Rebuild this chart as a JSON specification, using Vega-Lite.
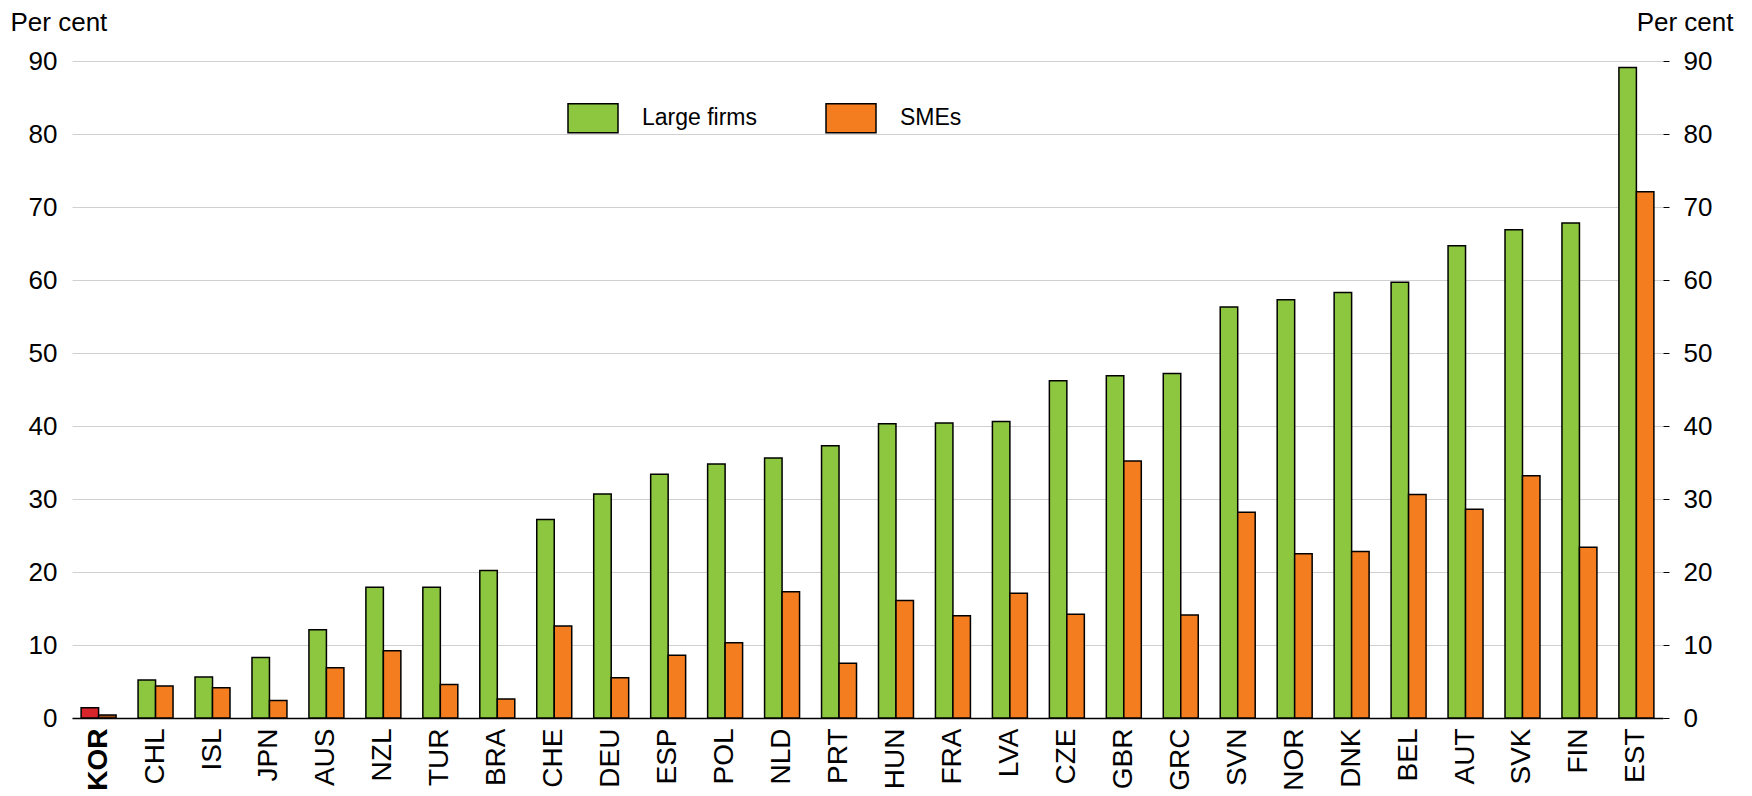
{
  "$schema": "https://vega.github.io/schema/vega-lite/v6.json",
  "width": 1591,
  "height": 657,
  "autosize": {"type": "none"},
  "padding": {"left": 72, "top": 61, "right": 89, "bottom": 78},
  "background": "white",
  "config": {
    "view": {"stroke": null},
    "font": "Liberation Sans",
    "axis": {"labelColor": "black", "titleColor": "black", "labelFont": "Liberation Sans", "titleFont": "Liberation Sans"}
  },
  "data": {
    "values": [
      {"country": "KOR", "series": "Large firms", "value": 1.4},
      {"country": "KOR", "series": "SMEs", "value": 0.4},
      {"country": "CHL", "series": "Large firms", "value": 5.2},
      {"country": "CHL", "series": "SMEs", "value": 4.4},
      {"country": "ISL", "series": "Large firms", "value": 5.6},
      {"country": "ISL", "series": "SMEs", "value": 4.15},
      {"country": "JPN", "series": "Large firms", "value": 8.3},
      {"country": "JPN", "series": "SMEs", "value": 2.4},
      {"country": "AUS", "series": "Large firms", "value": 12.1},
      {"country": "AUS", "series": "SMEs", "value": 6.9},
      {"country": "NZL", "series": "Large firms", "value": 17.9},
      {"country": "NZL", "series": "SMEs", "value": 9.2},
      {"country": "TUR", "series": "Large firms", "value": 17.9},
      {"country": "TUR", "series": "SMEs", "value": 4.6},
      {"country": "BRA", "series": "Large firms", "value": 20.2},
      {"country": "BRA", "series": "SMEs", "value": 2.6},
      {"country": "CHE", "series": "Large firms", "value": 27.2},
      {"country": "CHE", "series": "SMEs", "value": 12.6},
      {"country": "DEU", "series": "Large firms", "value": 30.7},
      {"country": "DEU", "series": "SMEs", "value": 5.5},
      {"country": "ESP", "series": "Large firms", "value": 33.4},
      {"country": "ESP", "series": "SMEs", "value": 8.6},
      {"country": "POL", "series": "Large firms", "value": 34.8},
      {"country": "POL", "series": "SMEs", "value": 10.3},
      {"country": "NLD", "series": "Large firms", "value": 35.6},
      {"country": "NLD", "series": "SMEs", "value": 17.3},
      {"country": "PRT", "series": "Large firms", "value": 37.3},
      {"country": "PRT", "series": "SMEs", "value": 7.5},
      {"country": "HUN", "series": "Large firms", "value": 40.3},
      {"country": "HUN", "series": "SMEs", "value": 16.1},
      {"country": "FRA", "series": "Large firms", "value": 40.4},
      {"country": "FRA", "series": "SMEs", "value": 14.0},
      {"country": "LVA", "series": "Large firms", "value": 40.6},
      {"country": "LVA", "series": "SMEs", "value": 17.1},
      {"country": "CZE", "series": "Large firms", "value": 46.2},
      {"country": "CZE", "series": "SMEs", "value": 14.2},
      {"country": "GBR", "series": "Large firms", "value": 46.9},
      {"country": "GBR", "series": "SMEs", "value": 35.2},
      {"country": "GRC", "series": "Large firms", "value": 47.2},
      {"country": "GRC", "series": "SMEs", "value": 14.1},
      {"country": "SVN", "series": "Large firms", "value": 56.3},
      {"country": "SVN", "series": "SMEs", "value": 28.2},
      {"country": "NOR", "series": "Large firms", "value": 57.3},
      {"country": "NOR", "series": "SMEs", "value": 22.5},
      {"country": "DNK", "series": "Large firms", "value": 58.3},
      {"country": "DNK", "series": "SMEs", "value": 22.8},
      {"country": "BEL", "series": "Large firms", "value": 59.7},
      {"country": "BEL", "series": "SMEs", "value": 30.6},
      {"country": "AUT", "series": "Large firms", "value": 64.7},
      {"country": "AUT", "series": "SMEs", "value": 28.6},
      {"country": "SVK", "series": "Large firms", "value": 66.9},
      {"country": "SVK", "series": "SMEs", "value": 33.2},
      {"country": "FIN", "series": "Large firms", "value": 67.8},
      {"country": "FIN", "series": "SMEs", "value": 23.4},
      {"country": "EST", "series": "Large firms", "value": 89.1},
      {"country": "EST", "series": "SMEs", "value": 72.1}
    ]
  },
  "layer": [
    {
      "mark": {"type": "rule", "color": "black", "strokeWidth": 1.5},
      "encoding": {}
    },
    {
      "mark": {"type": "bar", "stroke": "black", "strokeWidth": 1.5},
      "encoding": {
        "x": {
          "field": "country",
          "type": "nominal",
          "sort": null,
          "scale": {"paddingInner": 0.386, "paddingOuter": 0.16},
          "axis": {
            "title": null,
            "orient": "bottom",
            "labelAngle": -90,
            "labelFontSize": 28,
            "labelPadding": 10,
            "labelFontWeight": {"condition": {"test": "datum.value === 'KOR'", "value": "bold"}, "value": "normal"},
            "ticks": false,
            "domainColor": "black",
            "domainWidth": 1.5,
            "grid": false
          }
        },
        "xOffset": {"field": "series", "type": "nominal", "scale": {"paddingInner": 0, "paddingOuter": 0}},
        "y": {
          "field": "value",
          "type": "quantitative",
          "scale": {"domain": [0, 90], "nice": false},
          "axis": {
            "orient": "left",
            "values": [0, 10, 20, 30, 40, 50, 60, 70, 80, 90],
            "title": "Per cent",
            "titleAngle": 0,
            "titleAlign": "left",
            "titleBaseline": "alphabetic",
            "titleX": -62,
            "titleY": -31,
            "titleFontSize": 26,
            "titleFontWeight": "normal",
            "labelFontSize": 26,
            "labelPadding": 15,
            "ticks": false,
            "domain": false,
            "grid": true,
            "gridColor": "#d0d0d0",
            "gridWidth": 1
          }
        },
        "color": {
          "field": "series",
          "type": "nominal",
          "scale": {"domain": ["Large firms", "SMEs"], "range": ["#8dc63f", "#f47d20"]},
          "condition": [
            {"test": "datum.country === 'KOR' && datum.series === 'Large firms'", "value": "#d9252b"},
            {"test": "datum.country === 'KOR' && datum.series === 'SMEs'", "value": "#9c4a14"}
          ],
          "legend": {
            "title": null,
            "orient": "none",
            "legendX": 495,
            "legendY": 31,
            "direction": "horizontal",
            "columns": 2,
            "columnPadding": 65,
            "padding": 0,
            "symbolType": "M-1,-0.58H1V0.58H-1Z",
            "symbolSize": 2500,
            "symbolStrokeColor": "black",
            "symbolStrokeWidth": 1.5,
            "symbolOpacity": 1,
            "labelOffset": 23,
            "labelFontSize": 23,
            "labelColor": "black",
            "labelFont": "Liberation Sans"
          }
        }
      }
    },
    {
      "mark": {"type": "rule", "opacity": 0},
      "encoding": {
        "y": {
          "field": "value",
          "type": "quantitative",
          "axis": {
            "orient": "right",
            "values": [0, 10, 20, 30, 40, 50, 60, 70, 80, 90],
            "title": "Per cent",
            "titleAngle": 0,
            "titleAlign": "right",
            "titleBaseline": "alphabetic",
            "titleX": 70,
            "titleY": -31,
            "titleFontSize": 26,
            "titleFontWeight": "normal",
            "labelFontSize": 26,
            "labelPadding": 14,
            "ticks": true,
            "tickSize": 6,
            "tickColor": "black",
            "tickOffset": 0,
            "domain": false,
            "grid": false
          }
        }
      }
    }
  ],
  "resolve": {"scale": {"y": "shared"}, "axis": {"y": "independent"}}
}
